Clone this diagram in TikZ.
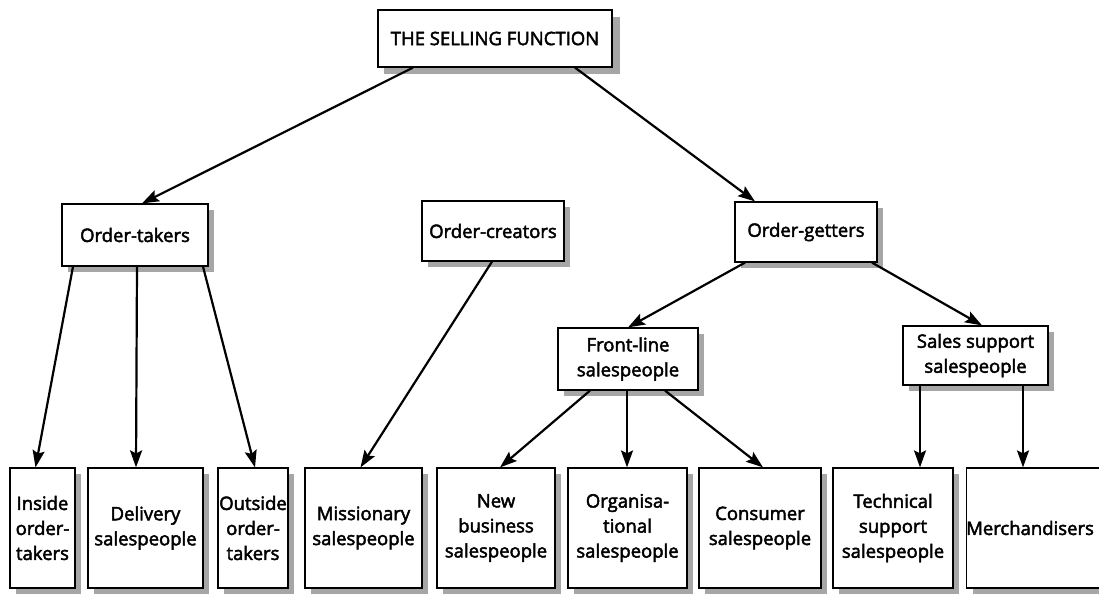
\documentclass[tikz,border=0pt]{standalone}
\usepackage{fontspec}
\setmainfont{Open Sans}[FakeBold=2.5]
\usetikzlibrary{arrows.meta}
\begin{document}
\begin{tikzpicture}[x=1pt,y=-1pt,
  box/.style={draw=black, line width=1.2pt, fill=white, inner sep=0pt, align=center,
    font=\fontsize{18.5}{25}\selectfont},
  shadowfill/.style={fill=black!35, draw=none},
  arr/.style={line width=2.2pt, -{Stealth[length=17pt,width=12pt,inset=3pt]}}]
\useasboundingbox (0,0) rectangle (1099,594);
% shadows (drawn first, behind the boxes)
\fill[shadowfill] (384,17) rectangle (620,74);
\fill[shadowfill] (68,210) rectangle (214,272);
\fill[shadowfill] (428,207) rectangle (570,267);
\fill[shadowfill] (741,208) rectangle (883,268);
\fill[shadowfill] (564,334) rectangle (704,396);
\fill[shadowfill] (909,332) rectangle (1054,391);
\fill[shadowfill] (16,474) rectangle (81,594);
\fill[shadowfill] (94,474) rectangle (209,594);
\fill[shadowfill] (224,474) rectangle (294,594);
\fill[shadowfill] (311,474) rectangle (428,594);
\fill[shadowfill] (443,474) rectangle (561,594);
\fill[shadowfill] (574,474) rectangle (693,594);
\fill[shadowfill] (705,474) rectangle (827,594);
\fill[shadowfill] (839,474) rectangle (959,594);
\fill[shadowfill] (973,474) rectangle (1099,594);
% level 0
\node[box, minimum width=234pt, minimum height=57pt] (top) at (495,38.5) {THE SELLING FUNCTION};
% level 1
\node[box, minimum width=146pt, minimum height=62pt] (ot) at (135,235) {Order-takers};
\node[box, minimum width=142pt, minimum height=60pt] (oc) at (493,231) {Order-creators};
\node[box, minimum width=142pt, minimum height=60pt] (og) at (806,232) {Order-getters};
% level 2
\node[box, minimum width=140pt, minimum height=62pt] (fl) at (628,359) {Front-line\\salespeople};
\node[box, minimum width=145pt, minimum height=59pt] (ss) at (975.5,355.5) {Sales support\\salespeople};
% level 3
\node[box, minimum width=65pt, minimum height=120pt] (in) at (42.5,528) {Inside\\order-\\takers};
\node[box, minimum width=115pt, minimum height=120pt] (del) at (145.5,528) {Delivery\\salespeople};
\node[box, minimum width=70pt, minimum height=120pt] (out) at (253,528) {Outside\\order-\\takers};
\node[box, minimum width=117pt, minimum height=120pt] (mis) at (363.5,528) {Missionary\\salespeople};
\node[box, minimum width=118pt, minimum height=120pt] (nb) at (496,528) {New\\business\\salespeople};
\node[box, minimum width=119pt, minimum height=120pt] (org) at (627.5,528) {Organisa-\\tional\\salespeople};
\node[box, minimum width=122pt, minimum height=120pt] (con) at (760,528) {Consumer\\salespeople};
\node[box, minimum width=120pt, minimum height=120pt] (tech) at (893,528) {Technical\\support\\salespeople};
\node[box, minimum width=136pt, minimum height=120pt] (mer) at (1035,528) {Merchandisers\hspace*{10pt}};
% connectors
\draw[arr] ([xshift=-82pt]top.south) -- ([xshift=7pt]ot.north);
\draw[arr] ([xshift=80pt]top.south) -- ([xshift=-51pt]og.north);
\draw[arr] ([xshift=-1pt]oc.south) -- ([xshift=-3pt]mis.north);
\draw[arr] ([xshift=-62pt]ot.south) -- ([xshift=-7pt]in.north);
\draw[arr] ([xshift=2pt]ot.south) -- ([xshift=-9.5pt]del.north);
\draw[arr] ([xshift=68pt]ot.south) -- ([xshift=2pt]out.north);
\draw[arr] ([xshift=-61pt]og.south) -- (fl.north);
\draw[arr] ([xshift=66pt]og.south) -- ([xshift=6.5pt]ss.north);
\draw[arr] ([xshift=-38pt]fl.south) -- ([xshift=4pt]nb.north);
\draw[arr] ([xshift=-1pt]fl.south) -- ([xshift=-0.5pt]org.north);
\draw[arr] ([xshift=37pt]fl.south) -- ([xshift=3pt]con.north);
\draw[arr] ([xshift=-55.5pt]ss.south) -- ([xshift=27pt]tech.north);
\draw[arr] ([xshift=47.5pt]ss.south) -- ([xshift=-12pt]mer.north);
\end{tikzpicture}
\end{document}
